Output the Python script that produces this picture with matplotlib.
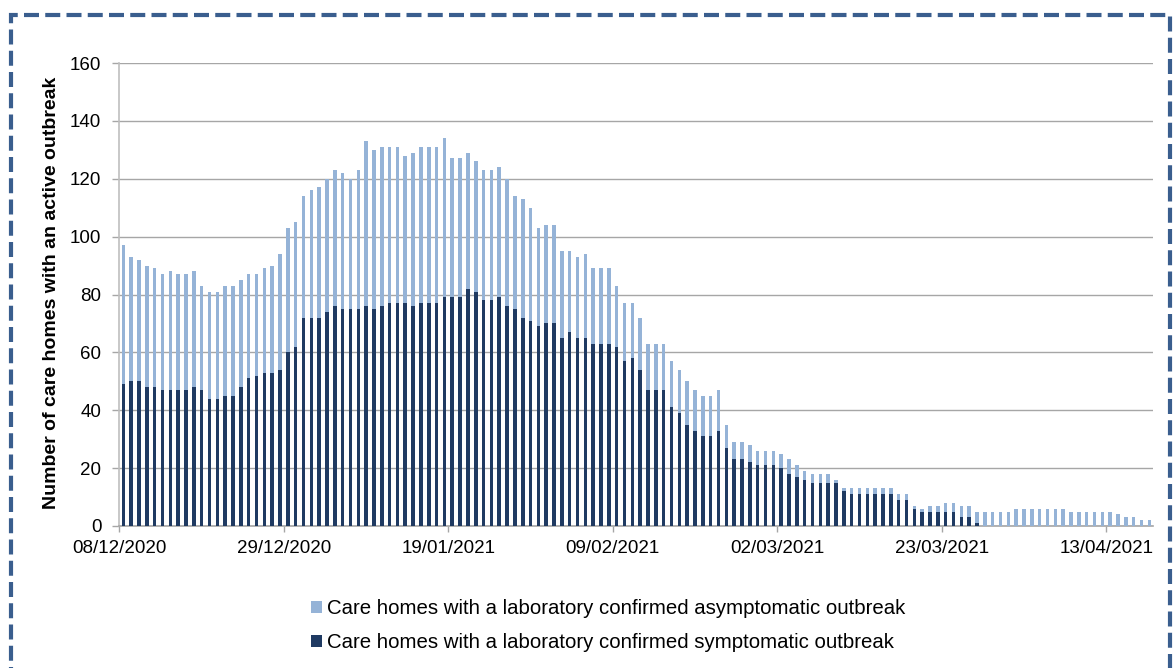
import matplotlib
matplotlib.use("Agg")
import matplotlib.pyplot as plt
from matplotlib.patches import Patch, Rectangle

# ---- data ----
start_date = "2020-12-08"
n_days = 132
symptomatic = [
    49, 50, 50, 48, 48, 47, 47, 47, 47, 48, 47, 44, 44, 45, 45, 48, 51, 52, 53, 53, 54,
    60, 62, 72, 72, 72, 74, 76, 75, 75, 75, 76, 75, 76, 77, 77, 77, 76, 77, 77, 77, 79, 79, 79,
    82, 81, 78, 78, 79, 76, 75, 72, 71, 69, 70, 70, 65, 67, 65, 65, 63, 63, 63, 62,
    57, 58, 54, 47, 47, 47, 41, 39, 35, 33, 31, 31, 33, 27, 23, 23, 22, 21, 21, 21,
    20, 18, 17, 16, 15, 15, 15, 15, 12, 11, 11, 11, 11, 11, 11, 9, 9, 6, 5, 5, 5,
    5, 5, 3, 3, 1, 0, 0, 0, 0, 0, 0, 0, 0, 0, 0, 0, 0, 0, 0, 0, 0, 0, 0, 0, 0, 0, 0,
]
asymptomatic = [
    48, 43, 42, 42, 41, 40, 41, 40, 40, 40, 36, 37, 37, 38, 38, 37, 36, 35, 36, 37, 40,
    43, 43, 42, 44, 45, 46, 47, 47, 45, 48, 57, 55, 55, 54, 54, 51, 53, 54, 54, 54, 55, 48, 48,
    47, 45, 45, 45, 45, 44, 39, 41, 39, 34, 34, 34, 30, 28, 28, 29, 26, 26, 26, 21,
    20, 19, 18, 16, 16, 16, 16, 15, 15, 14, 14, 14, 14, 8, 6, 6, 6, 5, 5, 5,
    5, 5, 4, 3, 3, 3, 3, 1, 1, 2, 2, 2, 2, 2, 2, 2, 2, 1, 1, 2, 2,
    3, 3, 4, 4, 4, 5, 5, 5, 5, 6, 6, 6, 6, 6, 6, 6, 5, 5, 5, 5, 5, 5, 4, 3, 3, 2, 2,
]
tick_labels = ["08/12/2020", "29/12/2020", "19/01/2021", "09/02/2021",
               "02/03/2021", "23/03/2021", "13/04/2021"]
tick_every = 21
series_names = ["Care homes with a laboratory confirmed asymptomatic outbreak",
                "Care homes with a laboratory confirmed symptomatic outbreak"]
y_label = "Number of care homes with an active outbreak"

# ---- style ----
DARK = "#1F3A62"
LIGHT = "#95B3D7"
GRID = "#A6A6A6"
AXIS = "#BFBFBF"
BORDER = "#3A5E8E"
FONT = "Liberation Sans"

W, H = 1173, 668
fig = plt.figure(figsize=(W / 100, H / 100), dpi=100)
left_px, right_px, top_px, bot_px = 119.4, 1153.2, 63, 526
ax = fig.add_axes([left_px / W, 1 - bot_px / H, (right_px - left_px) / W, (bot_px - top_px) / H])

x = list(range(n_days))
bw = 0.45
ax.bar(x, symptomatic, width=bw, color=DARK, linewidth=0, zorder=3)
ax.bar(x, asymptomatic, width=bw, bottom=symptomatic, color=LIGHT, linewidth=0, zorder=3)

ax.set_xlim(-0.5, n_days - 0.5)
ax.set_ylim(0, 160)
ax.set_yticks(range(0, 161, 20))
ax.yaxis.grid(True, color=GRID, linewidth=1.0)
ax.set_axisbelow(True)

ticks = [i * tick_every - 0.5 for i in range(len(tick_labels))]
ax.set_xticks(ticks)
ax.set_xticklabels(tick_labels)

for s in ["top", "right"]:
    ax.spines[s].set_visible(False)
ax.spines["left"].set_color(AXIS)
ax.spines["bottom"].set_color(GRID)
ax.spines["left"].set_linewidth(1.2)
ax.spines["bottom"].set_linewidth(1.2)

ax.tick_params(axis="y", direction="out", length=5, width=1, color=GRID, pad=8,
               labelsize=13.5, labelcolor="#000000")
ax.tick_params(axis="x", direction="out", length=4, width=1, color=GRID, pad=6,
               labelsize=13.5, labelcolor="#000000")
for lab in ax.get_xticklabels() + ax.get_yticklabels():
    lab.set_fontfamily(FONT)

fig.text(52 / W, 1 - 292.5 / H, y_label, rotation=90, ha="center", va="center",
         fontsize=14, fontweight="bold", fontfamily=FONT)

handles = [Patch(facecolor=LIGHT, edgecolor="none"), Patch(facecolor=DARK, edgecolor="none")]
fig.legend(handles, series_names, loc="upper left",
           bbox_to_anchor=(311 / W, 1 - 599 / H), frameon=False,
           borderpad=0, borderaxespad=0, handlelength=0.55, handleheight=0.55,
           handletextpad=0.25, labelspacing=0.75, prop={"family": FONT, "size": 14.7})

border = Rectangle((11 / W, -0.2), (1169.5 - 11) / W, 1.2 - 15 / H,
                   transform=fig.transFigure, fill=False, edgecolor=BORDER,
                   linewidth=3.0, linestyle=(0, (3.6, 1.5)), clip_on=False, zorder=10)
fig.patches.append(border)

fig.savefig("out.png", dpi=100, facecolor="white")
